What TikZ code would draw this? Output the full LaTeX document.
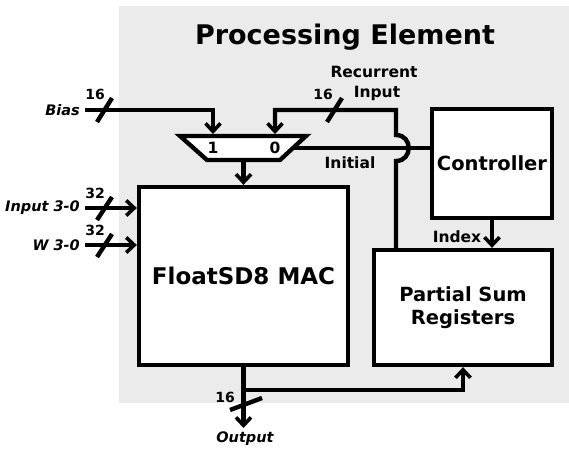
\documentclass[tikz,border=0pt]{standalone}
\usepackage{fontspec}
\setmainfont{DejaVu Sans}
\usetikzlibrary{arrows.meta}
\definecolor{bggray}{RGB}{235,235,235}
\tikzset{
  wire/.style={line width=4.2pt},
  arr/.style={line width=4.4pt,-{Straight Barb[length=8pt,width=15pt,line width=3.6pt]}},
  blk/.style={draw,line width=4.3pt,fill=white,inner sep=0pt,align=center,font=\bfseries\fontsize{19.5}{23}\selectfont},
  lbl/.style={inner sep=0pt,font=\bfseries\fontsize{15.5}{18}\selectfont},
  ilbl/.style={inner sep=0pt,font=\bfseries\itshape\fontsize{14.5}{18}\selectfont},
  num/.style={inner sep=0pt,font=\bfseries\fontsize{14}{16}\selectfont},
  slash/.style={line width=4.4pt}
}
\begin{document}
\begin{tikzpicture}[x=1pt,y=-1pt]
\useasboundingbox (0,0) rectangle (569,449);
\fill[bggray] (119,6) rectangle (569,403);
\node[inner sep=0pt,font=\bfseries\fontsize{27}{32}\selectfont] (title) at (345,37) {Processing Element};

% blocks
\node[blk,minimum width=209pt,minimum height=178pt,font=\bfseries\fontsize{23}{27}\selectfont] (mac) at (243.5,276) {FloatSD8 MAC};
\node[blk,minimum width=120pt,minimum height=109pt] (ctrl) at (492,163.5) {Controller};
\node[blk,minimum width=178pt,minimum height=115pt] (psr) at (463,307.5) {Partial Sum\\Registers};

% mux
\draw[line width=4.3pt,fill=white,line join=miter] (180,136) -- (306,136) -- (280,160) -- (207,160) -- cycle;
\coordinate (mux1) at (213,134);
\coordinate (mux0) at (275,134);
\coordinate (muxout) at (243.5,162);
\coordinate (muxsel) at (293,148);
\node[lbl] (m1) at (213,148) {1};
\node[lbl] (m0) at (275,148) {0};

% inputs
\coordinate (biasL) at (85,110);
\coordinate (inL) at (85,208);
\coordinate (wL) at (85,245);
\draw[arr] (biasL) -| (mux1);
\draw[arr] (inL) -- (inL -| mac.west);
\draw[arr] (wL) -- (wL -| mac.west);
\draw[arr] (muxout) -- (muxout |- mac.north);

% recurrent feedback with hop
\coordinate (recB) at (396,248);
\coordinate (recT) at (396,110);
\draw[arr,line join=miter] (recB) -- (396,161) .. controls (413,161) and (413,135) .. (396,135) -- (recT) -| (mux0);

% initial select
\draw[wire] (muxsel) -- (muxsel -| ctrl.west);

% index
\draw[arr] (ctrl.south) -- (ctrl.south |- psr.north);

% output
\coordinate (outE) at (243.5,428);
\coordinate (br) at (243.5,390);
\draw[arr] (mac.south) -- (outE);
\draw[arr,line join=miter] (br) -| (psr.south);

% bus slashes
\draw[slash] (97,122) -- (112,98);
\draw[slash] (327,122) -- (342,98);
\draw[slash] (97,220) -- (112,197);
\draw[slash] (97,257) -- (112,234);
\draw[slash] (230,410) -- (262,398);

% labels
\node[ilbl,anchor=east] (lbias) at (80,110) {Bias};
\node[ilbl,anchor=east] (lin) at (80,208) {Input 3-0};
\node[ilbl,anchor=east] (lw) at (80,245) {W 3-0};
\node[ilbl] (lout) at (245,439) {Output};
\node[num] (n1) at (95,94) {16};
\node[num] (n2) at (323,94) {16};
\node[num] (n3) at (95,193) {32};
\node[num] (n4) at (95,230) {32};
\node[num] (n5) at (225,397) {16};
\node[lbl] (lrec1) at (374,72) {Recurrent};
\node[lbl] (lrec2) at (377,93) {Input};
\node[lbl] (linit) at (350,163) {Initial};
\node[lbl] (lidx) at (457,237) {Index};
\end{tikzpicture}
\end{document}
